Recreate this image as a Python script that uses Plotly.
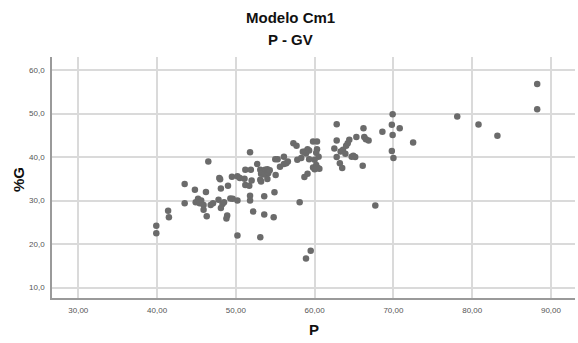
import plotly.graph_objects as go

# P values (x) and %G values (y)
p_vals = [
    39.9, 39.9, 41.4, 41.5, 43.5, 43.5, 44.8, 45.2, 44.9, 45.6,
    46.2, 45.4, 45.9, 45.9, 46.3, 46.5, 46.8, 47.1, 47.8, 47.9,
    48.0, 48.1, 48.3, 48.5, 48.1, 49.0, 49.5, 48.9, 48.8, 49.3, 49.6,
    51.8, 52.7, 51.2, 51.9, 50.2, 50.5, 51.1, 51.2, 51.7, 52.0,
    53.1, 53.4, 53.7, 54.0, 53.2, 53.6, 54.1, 53.1, 53.2, 54.0,
    54.3, 55.05, 55.0, 55.3, 55.6, 56.1, 56.4, 56.6, 56.1, 57.3,
    57.7, 57.8, 58.3, 58.8, 59.1, 58.9, 58.5, 59.8, 59.8, 59.1,
    58.7, 50.2, 51.8, 51.8, 53.6, 54.9, 58.1, 52.2, 53.6, 54.8,
    50.2, 53.1, 59.5, 58.9,
    62.8, 60.3, 59.3, 60.3, 60.2, 60.5, 60.0, 60.2, 60.4, 60.0,
    60.6, 59.3, 62.5, 62.8, 63.3, 63.6, 64.0, 64.2, 64.4, 63.9,
    62.8, 63.2, 63.5, 64.7, 64.9, 65.15, 66.2, 65.3, 66.3, 66.5,
    66.85, 66.1, 68.6, 69.9, 69.8, 70.8, 69.9, 72.5, 69.8, 70.0,
    67.7, 78.1, 80.8, 83.2, 88.25, 88.25,
]
g_vals = [
    24.2, 22.5, 27.7, 26.2, 33.8, 29.4, 32.5, 30.4, 29.6, 30.0,
    32.0, 29.4, 29.0, 27.9, 26.4, 39.0, 29.0, 29.4, 30.2, 35.2,
    34.9, 32.8, 29.2, 29.6, 28.3, 33.4, 35.5, 26.6, 25.9, 30.5, 30.4,
    41.1, 38.4, 37.1, 37.1, 35.6, 35.2, 35.0, 33.6, 33.4, 34.6,
    37.1, 36.7, 37.1, 37.2, 36.2, 36.0, 36.3, 34.8, 34.4, 34.95,
    37.0, 35.9, 39.5, 39.5, 37.8, 40.1, 38.6, 39.0, 38.4, 43.2,
    42.6, 39.4, 39.8, 41.3, 41.8, 40.8, 41.2, 43.6, 37.6, 36.2,
    35.4, 30.0, 31.1, 30.0, 31.0, 31.9, 29.6, 27.5, 26.8, 26.2,
    22.0, 21.6, 18.5, 16.7,
    47.55, 43.6, 41.5, 41.8, 41.0, 40.1, 39.4, 38.2, 37.5, 37.2,
    37.3, 39.5, 42.0, 43.8, 41.3, 41.7, 42.6, 43.2, 44.0, 40.75,
    40.0, 38.6, 37.5, 40.1, 40.3, 40.0, 46.6, 44.6, 44.6, 44.1,
    43.8, 38.0, 45.8, 49.85, 47.4, 46.6, 45.1, 43.35, 41.4, 39.8,
    28.9, 49.3, 47.5, 44.9, 56.8, 51.0,
]

x_ticks = [30, 40, 50, 60, 70, 80, 90]
x_tick_text = ["30,00", "40,00", "50,00", "60,00", "70,00", "80,00", "90,00"]
y_ticks = [10, 20, 30, 40, 50, 60]
y_tick_text = ["10,0", "20,0", "30,0", "40,0", "50,0", "60,0"]

title_main = "Modelo Cm1"
title_sub = "P - GV"
x_title = "P"
y_title = "%G"

W, H = 578, 343
ML, MR, MT, MB = 52, 3, 57, 45
plot_w = W - ML - MR
plot_h = H - MT - MB

def px_x(px):
    return (px - ML) / plot_w

def px_y(py):
    return (H - MB - py) / plot_h

fig = go.Figure()
fig.add_trace(go.Scatter(
    x=p_vals, y=g_vals, mode="markers",
    marker=dict(color="#6b6b6b", size=6.5, line=dict(width=0)),
    showlegend=False, hoverinfo="x+y",
))

font_family = "Liberation Sans, Arial, sans-serif"
title_font = dict(size=15, color="#111111", family=font_family)

def label(text, cx, cy, angle=0):
    return dict(text="<b>" + text + "</b>", x=px_x(cx), y=px_y(cy), textangle=angle,
                xref="paper", yref="paper", xanchor="center", yanchor="middle",
                showarrow=False, font=title_font)

fig.update_layout(
    width=W, height=H,
    margin=dict(l=ML, r=MR, t=MT, b=MB),
    paper_bgcolor="white", plot_bgcolor="white",
    font=dict(family=font_family, color="#333333"),
    annotations=[
        label(title_main, 290, 18),
        label(title_sub, 290, 39),
        label(y_title, 18, 180, -90),
        label(x_title, 314, 329),
    ],
)

fig.update_xaxes(
    range=[26.66, 93.05],
    tickvals=x_ticks, ticktext=x_tick_text,
    tickfont=dict(size=8, color="#555555"),
    showgrid=True, gridcolor="#dadada", gridwidth=1.5,
    showline=True, linecolor="#9a9a9a", linewidth=1.5,
    zeroline=False, ticks="", ticklabelstandoff=4,
)
fig.update_yaxes(
    range=[7.63, 62.99],
    tickvals=y_ticks, ticktext=y_tick_text,
    tickfont=dict(size=8, color="#555555"),
    showgrid=True, gridcolor="#dadada", gridwidth=1.5,
    showline=True, linecolor="#9a9a9a", linewidth=1.5,
    zeroline=False, ticks="", ticklabelstandoff=4,
)

fig.write_html("out.html")
